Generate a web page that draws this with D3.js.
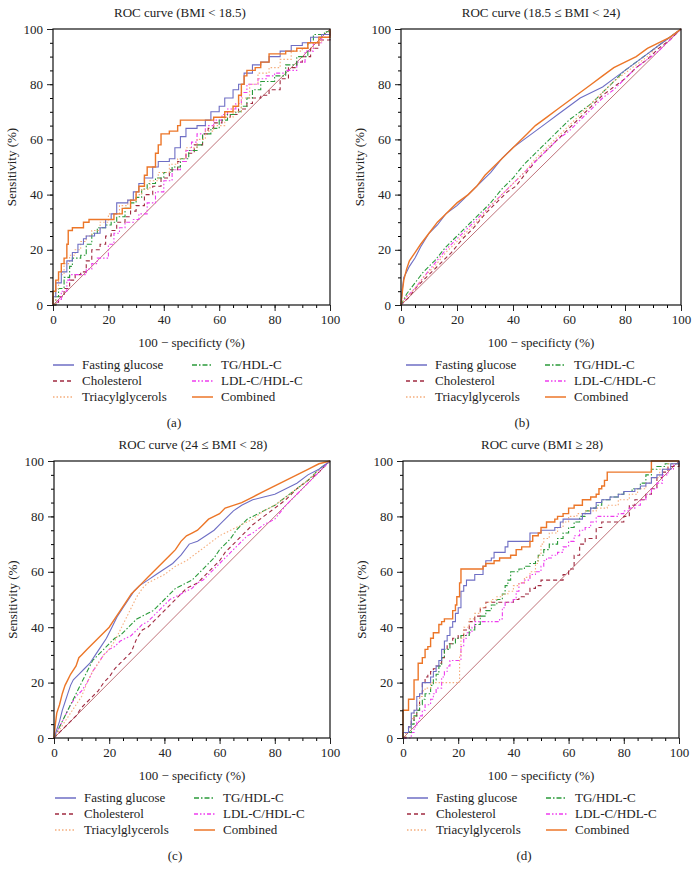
<!DOCTYPE html>
<html>
<head>
<meta charset="utf-8">
<script src="https://cdn.jsdelivr.net/npm/d3@7"></script>
<style>
body { margin: 0; background: #fff; }
text { font-family: "Liberation Serif", "Times New Roman", serif; fill: #222; }
</style>
</head>
<body>
<script>
// series names, legend order: first column then second column
var seriesNames = ["Fasting glucose", "Cholesterol", "Triacylglycerols", "TG/HDL-C", "LDL-C/HDL-C", "Combined"];
var tickLabels = [0, 20, 40, 60, 80, 100];
var minorTicks = d3.range(0, 101, 5);
var titles = ["ROC curve (BMI < 18.5)", "ROC curve (18.5 \u2264 BMI < 24)", "ROC curve (24 \u2264 BMI < 28)", "ROC curve (BMI \u2265 28)"];
var captions = ["(a)", "(b)", "(c)", "(d)"];

// (a) BMI < 18.5  -- [100 - specificity, sensitivity]
var aFasting = [[0,0],[0,3],[1,8],[3,12],[5,16],[7,19],[9,22],[11,24],[12,25],[15,26],[17,28],[19,31],[21,33],[23,37],[27,38],[29,41],[31,44],[33,46],[36,50],[38,52],[42,53],[44,57],[46,61],[48,64],[52,65],[55,67],[57,70],[60,72],[62,75],[65,78],[67,80],[69,84],[72,87],[75,88],[78,90],[82,92],[86,94],[90,95],[93,97],[97,98],[100,100]];
var aChol = [[0,0],[1,1],[2,3],[4,6],[6,9],[8,11],[10,12],[12,16],[14,20],[17,22],[19,25],[21,27],[23,30],[26,32],[28,34],[30,36],[33,40],[36,43],[39,46],[42,49],[45,52],[48,55],[51,58],[54,62],[56,64],[58,66],[61,68],[64,69],[67,71],[70,73],[72,75],[75,76],[78,78],[82,82],[85,86],[88,88],[90,90],[93,93],[96,96],[100,100]];
var aTri = [[0,0],[1,6],[2,11],[4,15],[6,18],[8,20],[10,23],[12,25],[14,27],[17,30],[20,33],[24,36],[27,38],[30,40],[32,42],[35,45],[38,48],[42,51],[45,53],[48,57],[52,60],[55,63],[58,65],[62,68],[65,70],[68,75],[71,80],[74,84],[78,86],[82,89],[86,92],[90,93],[94,95],[97,98],[100,100]];
var aTg = [[0,0],[1,3],[2,6],[4,10],[6,14],[7,17],[10,18],[12,22],[14,26],[16,28],[19,29],[21,30],[23,32],[26,35],[28,37],[30,39],[32,42],[34,44],[37,46],[40,48],[43,50],[46,53],[49,56],[52,58],[54,62],[57,64],[60,67],[63,69],[66,70],[68,72],[70,75],[72,78],[75,81],[80,83],[84,87],[88,90],[92,95],[94,98],[98,99],[100,100]];
var aLdl = [[0,0],[1,1],[2,2],[3,5],[5,9],[6,11],[10,11],[12,13],[14,15],[16,17],[18,17],[20,22],[22,26],[24,28],[26,30],[29,31],[31,33],[34,37],[37,41],[40,45],[43,49],[46,52],[48,56],[50,59],[52,62],[55,65],[58,67],[61,69],[63,71],[66,73],[68,77],[70,80],[74,82],[77,83],[80,84],[84,85],[88,88],[91,92],[94,95],[97,97],[100,100]];
var aComb = [[0,0],[0,5],[1,9],[2,12],[3,15],[4,17],[5,22],[5.5,27],[7,28],[10,28],[11,30],[13,31],[20,31],[22,33],[25,35],[28,38],[30,41],[31,43],[33,47],[34,50],[36,50],[37,55],[38,58],[39,62],[42,63],[45,65],[46,67],[55,67],[58,68],[62,70],[65,72],[67,76],[68,80],[69,83],[70,85],[73,86],[75,88],[78,91],[84,92],[88,93],[92,95],[96,97],[100,100]];

// (b) 18.5 <= BMI < 24
var bFasting = [[0,0],[0.5,6],[1,10],[2,12],[3,14],[5,17],[7,21],[10,26],[13,29],[16,33],[20,36],[24,40],[28,44],[32,48],[36,53],[40,57],[44,60],[48,63],[52,66],[56,69],[60,72],[64,75],[68,77],[72,79],[76,82],[80,85],[84,88],[88,91],[92,94],[96,97],[100,100]];
var bChol = [[0,0],[3,3],[6,7],[10,11],[14,15],[18,19],[22,24],[26,28],[30,33],[34,37],[38,41],[41,43],[44,47],[48,52],[52,56],[56,60],[60,64],[64,68],[68,72],[72,76],[76,79],[80,82],[84,86],[88,89],[92,93],[96,96],[100,100]];
var bTri = [[0,0],[2,3],[5,6],[8,10],[12,14],[16,19],[20,23],[24,27],[28,31],[32,36],[36,40],[40,44],[44,48],[48,53],[52,57],[56,61],[60,65],[64,69],[68,73],[72,77],[76,81],[80,84],[84,87],[88,90],[92,94],[96,97],[100,100]];
var bTg = [[0,0],[2,4],[5,8],[8,12],[12,16],[16,21],[20,25],[24,29],[28,33],[32,37],[36,42],[40,46],[44,51],[48,55],[52,59],[56,63],[60,67],[64,70],[68,73],[72,77],[76,81],[80,85],[84,88],[88,91],[92,94],[96,97],[100,100]];
var bLdl = [[0,0],[2,3],[5,6],[8,10],[12,15],[16,20],[20,24],[24,28],[28,32],[32,36],[36,40],[40,44],[44,48],[48,52],[52,56],[56,60],[60,63],[64,67],[68,71],[72,75],[76,78],[80,82],[84,86],[88,89],[92,92],[96,96],[100,100]];
var bComb = [[0,0],[0.5,5],[1,9],[2,13],[3,16],[5,19],[7,22],[10,26],[13,30],[16,33],[20,37],[24,40],[27,43],[30,47],[33,50],[36,53],[39,56],[42,59],[45,62],[48,65],[52,68],[56,71],[60,74],[64,77],[68,80],[72,83],[76,86],[80,88],[84,90],[88,93],[92,95],[96,97],[100,100]];

// (c) 24 <= BMI < 28
var cFasting = [[0,0],[1,3],[2,6],[3,10],[4,13],[5,16],[6,19],[7,21],[9,23],[11,25],[13,27],[15,30],[17,33],[19,36],[21,40],[23,44],[25,47],[27,50],[29,53],[31,55],[34,57],[37,59],[40,61],[43,63],[46,66],[49,70],[52,71],[55,73],[58,75],[60,77],[62,79],[65,82],[68,84],[72,86],[76,87],[80,88],[84,90],[88,92],[92,95],[96,97],[100,100]];
var cChol = [[0,0],[2,2],[4,4],[6,6],[8,8],[10,11],[12,13],[14,15],[16,17],[18,20],[20,22],[22,25],[24,27],[26,29],[28,31],[30,36],[32,39],[34,40],[36,42],[38,44],[40,46],[42,48],[44,50],[46,52],[48,54],[50,55],[52,56],[54,58],[56,60],[58,62],[60,64],[62,67],[64,69],[66,71],[68,73],[70,75],[72,77],[76,80],[80,83],[84,86],[88,90],[92,93],[96,96],[100,100]];
var cTri = [[0,0],[2,3],[4,6],[6,9],[8,12],[10,15],[12,20],[14,24],[16,27],[18,30],[20,32],[22,35],[24,39],[26,43],[28,47],[30,51],[32,54],[34,56],[36,57],[40,59],[44,62],[48,64],[52,67],[56,70],[60,73],[64,75],[68,77],[72,79],[76,82],[80,84],[84,87],[88,90],[92,93],[96,97],[100,100]];
var cTg = [[0,0],[1,2],[2,4],[4,8],[6,12],[8,16],[10,20],[12,24],[14,28],[16,30],[18,32],[20,34],[22,36],[24,37],[26,39],[28,41],[30,43],[32,44],[34,45],[36,46],[38,48],[40,50],[42,52],[44,54],[46,55],[48,56],[50,57],[52,59],[54,61],[56,63],[58,65],[60,68],[62,70],[64,72],[66,75],[68,77],[70,79],[72,80],[76,82],[80,84],[84,87],[88,90],[92,93],[96,97],[100,100]];
var cLdl = [[0,0],[1,2],[2,4],[4,8],[6,12],[8,15],[10,17],[12,20],[14,24],[16,27],[18,30],[20,32],[22,33],[24,35],[26,36],[28,37],[30,39],[32,41],[34,42],[36,44],[38,46],[40,48],[42,50],[44,51],[46,52],[48,53],[50,54],[52,56],[54,57],[56,59],[58,61],[60,63],[62,65],[64,67],[66,69],[68,71],[70,73],[72,74],[76,77],[80,79],[84,84],[88,88],[92,92],[96,96],[100,100]];
var cComb = [[0,0],[0.5,5],[1,9],[2,12],[3,16],[4,19],[5,21],[6,23],[8,26],[9,29],[10,30],[12,32],[14,34],[16,36],[18,38],[20,40],[22,43],[24,46],[26,49],[28,52],[30,54],[32,56],[34,58],[36,60],[38,62],[40,64],[42,66],[44,68],[46,71],[48,73],[50,74],[52,75],[54,77],[56,79],[58,80],[60,81],[62,83],[65,84],[68,85],[72,87],[76,89],[80,91],[84,93],[88,95],[92,97],[96,99],[100,100]];

// (d) BMI >= 28
var dFasting = [[0,0],[0,2],[2,4],[3,9],[4,10],[5,15],[6,16],[7,20],[9,20],[10,22],[11,24],[12,26],[13,28],[14,32],[15,35],[16,37],[17,40],[18,42],[19,45],[20,47],[21,53],[22,55],[23,57],[25,57],[26,59],[28,59],[29,62],[30,64],[32,65],[33,67],[36,67],[37,69],[38,71],[45,71],[46,74],[50,75],[55,76],[57,78],[58,79],[64,79],[65,81],[68,83],[70,85],[72,86],[75,87],[78,88],[80,89],[84,90],[86,91],[88,92],[90,94],[92,95],[94,97],[97,99],[100,100]];
var dChol = [[0,0],[1,2],[2,4],[3,6],[4,8],[5,10],[6,16],[7,20],[8,22],[9,23],[10,24],[11,25],[12,26],[13,27],[14,29],[15,32],[16,34],[18,36],[20,37],[22,39],[24,42],[26,44],[28,47],[30,49],[38,49],[40,50],[42,51],[44,52],[46,54],[48,55],[50,57],[56,57],[58,59],[60,61],[62,66],[64,70],[66,72],[70,76],[72,78],[78,78],[80,80],[82,84],[84,86],[88,88],[90,90],[92,94],[94,96],[96,98],[100,100]];
var dTri = [[0,0],[1,2],[2,4],[3,7],[4,10],[5,12],[6,15],[7,17],[8,18],[10,20],[20,20],[20.5,30],[21,36],[22,40],[24,43],[26,45],[28,47],[30,49],[32,50],[34,51],[36,52],[38,53],[40,55],[42,56],[44,58],[46,60],[48,63],[49,66],[50,70],[51,72],[53,74],[56,76],[58,78],[60,80],[63,81],[66,82],[70,83],[74,84],[78,86],[82,88],[85,90],[88,92],[90,94],[93,97],[96,99],[100,100]];
var dTg = [[0,0],[0,2],[2,2],[3,5],[4,8],[5,10],[6,12],[7,14],[8,16],[10,19],[11,21],[12,23],[13,26],[14,29],[15,32],[17,34],[19,36],[21,37],[23,37],[24,39],[26,41],[28,44],[30,46],[32,48],[34,50],[36,52],[37,55],[38,57],[39,60],[42,61],[44,62],[46,63],[48,64],[49,66],[51,68],[53,70],[56,72],[58,74],[60,76],[62,78],[64,80],[66,82],[68,83],[70,84],[72,86],[75,87],[78,88],[80,89],[83,90],[86,92],[88,95],[90,97],[92,98],[95,99],[100,100]];
var dLdl = [[0,0],[2,0],[3,2],[4,4],[5,6],[6,8],[7,10],[8,12],[10,14],[11,16],[12,18],[14,22],[15,24],[16,26],[17,28],[20,28],[21,33],[22,36],[23,38],[25,40],[26,42],[30,42],[35,43],[36,47],[37,49],[40,50],[41,53],[42,56],[44,57],[46,59],[48,60],[50,62],[51,64],[52,65],[54,66],[56,67],[58,69],[60,71],[62,73],[64,75],[66,76],[68,78],[70,80],[75,80],[78,81],[80,82],[82,83],[84,84],[86,86],[88,88],[90,90],[92,92],[94,95],[96,97],[98,99],[100,100]];
var dComb = [[0,0],[0,8],[0,10],[2,10],[2,14],[4,14],[4,21],[5.5,21],[5.5,27],[7,29],[8,32],[9,33],[10,36],[11,38],[12,38],[13,41],[14,42],[15,43],[17,43],[18,46],[19,48],[19.5,51],[20.5,56],[21,61],[28,61],[29,62],[30,63],[33,64],[35,65],[39,66],[41,68],[43,69],[46,71],[47,73],[49,74],[50,76],[52,78],[55,79],[56,80],[58,81],[60,83],[62,84],[65,86],[68,87],[70,88],[71,90],[72,91],[73,93],[74,96],[90,96],[90,100],[100,100]];

// line styles per series (same order as seriesNames)
var styles = [
    {color: "#6e6ec4", dash: null, width: 1.1},
    {color: "#a02a40", dash: "4,3", width: 1.1},
    {color: "#f5ad7c", dash: "1.5,2", width: 1.1},
    {color: "#2a9a3a", dash: "5,2,1.5,2", width: 1.1},
    {color: "#ee3cee", dash: "4,2,1.5,2,1.5,2", width: 1.1},
    {color: "#ec7628", dash: null, width: 1.4}
];
var drawOrder = [1, 4, 3, 2, 0, 5];
var fontSize = "13px";

var panels = [
    {left: 53, right: 330, top: 29, bottom: 305, step: true, titleX: 180, legendX: 53,
     series: [aFasting, aChol, aTri, aTg, aLdl, aComb]},
    {left: 401, right: 681, top: 29, bottom: 305, step: false, titleX: 541, legendX: 406,
     series: [bFasting, bChol, bTri, bTg, bLdl, bComb]},
    {left: 54, right: 330, top: 461, bottom: 738, step: false, titleX: 193, legendX: 55,
     series: [cFasting, cChol, cTri, cTg, cLdl, cComb]},
    {left: 403, right: 679, top: 461, bottom: 738, step: true, titleX: 542, legendX: 407,
     series: [dFasting, dChol, dTri, dTg, dLdl, dComb]}
];

var svg = d3.select("body").append("svg")
    .attr("width", 698)
    .attr("height", 870);

panels.forEach(function(p, i) {
    var x = d3.scaleLinear().domain([0, 100]).range([p.left, p.right]);
    var y = d3.scaleLinear().domain([0, 100]).range([p.bottom, p.top]);
    var g = svg.append("g");

    g.append("text")
        .attr("x", p.titleX)
        .attr("y", p.top - 12)
        .attr("text-anchor", "middle")
        .style("font-size", fontSize)
        .text(titles[i]);

    // diagonal reference
    g.append("line")
        .attr("x1", x(0)).attr("y1", y(0))
        .attr("x2", x(100)).attr("y2", y(100))
        .attr("stroke", "#b8626a")
        .attr("stroke-width", 0.9);

    var line = d3.line()
        .x(function(d) { return x(d[0]); })
        .y(function(d) { return y(d[1]); })
        .curve(p.step ? d3.curveStepAfter : d3.curveLinear);

    drawOrder.forEach(function(k) {
        var s = styles[k];
        g.append("path")
            .datum(p.series[k])
            .attr("d", line)
            .attr("fill", "none")
            .attr("stroke", s.color)
            .attr("stroke-width", s.width)
            .attr("stroke-dasharray", s.dash);
    });

    // minor ticks
    g.append("g")
        .attr("transform", "translate(0," + p.bottom + ")")
        .call(d3.axisBottom(x).tickValues(minorTicks).tickSize(3).tickFormat(""))
        .call(function(a) { a.select(".domain").remove(); });
    g.append("g")
        .attr("transform", "translate(" + p.left + ",0)")
        .call(d3.axisLeft(y).tickValues(minorTicks).tickSize(3).tickFormat(""))
        .call(function(a) { a.select(".domain").remove(); });

    var xAxis = g.append("g")
        .attr("transform", "translate(0," + p.bottom + ")")
        .call(d3.axisBottom(x).tickValues(tickLabels).tickSize(6).tickPadding(4).tickSizeOuter(0));
    var yAxis = g.append("g")
        .attr("transform", "translate(" + p.left + ",0)")
        .call(d3.axisLeft(y).tickValues(tickLabels).tickSize(6).tickPadding(4).tickSizeOuter(0));
    [xAxis, yAxis].forEach(function(a) {
        a.selectAll("text").style("font-size", fontSize).style("font-family", "Liberation Serif, serif").attr("fill", "#222");
        a.selectAll("line").attr("stroke", "#222");
        a.select(".domain").remove();
    });

    g.append("rect")
        .attr("x", p.left).attr("y", p.top)
        .attr("width", p.right - p.left).attr("height", p.bottom - p.top)
        .attr("fill", "none")
        .attr("stroke", "#111")
        .attr("stroke-width", 1.2);

    g.append("text")
        .attr("x", (p.left + p.right) / 2)
        .attr("y", p.bottom + 42)
        .attr("text-anchor", "middle")
        .style("font-size", fontSize)
        .text("100 \u2212 specificty (%)");

    g.append("text")
        .attr("transform", "translate(" + (p.left - 37) + "," + ((p.top + p.bottom) / 2) + ") rotate(-90)")
        .attr("text-anchor", "middle")
        .style("font-size", fontSize)
        .text("Sensitivity (%)");

    // legend
    seriesNames.forEach(function(name, k) {
        var col = Math.floor(k / 3), row = k % 3;
        var lx = p.legendX + col * 139;
        var ly = p.bottom + 60 + row * 16;
        var s = styles[k];
        g.append("line")
            .attr("x1", lx).attr("x2", lx + 21)
            .attr("y1", ly).attr("y2", ly)
            .attr("stroke", s.color)
            .attr("stroke-width", 1.5)
            .attr("stroke-dasharray", s.dash);
        g.append("text")
            .attr("x", lx + 29)
            .attr("y", ly + 4)
            .style("font-size", fontSize)
            .text(name);
    });

    g.append("text")
        .attr("x", p.left + 121)
        .attr("y", p.bottom + 122)
        .attr("text-anchor", "middle")
        .style("font-size", fontSize)
        .text(captions[i]);
});
</script>
</body>
</html>
